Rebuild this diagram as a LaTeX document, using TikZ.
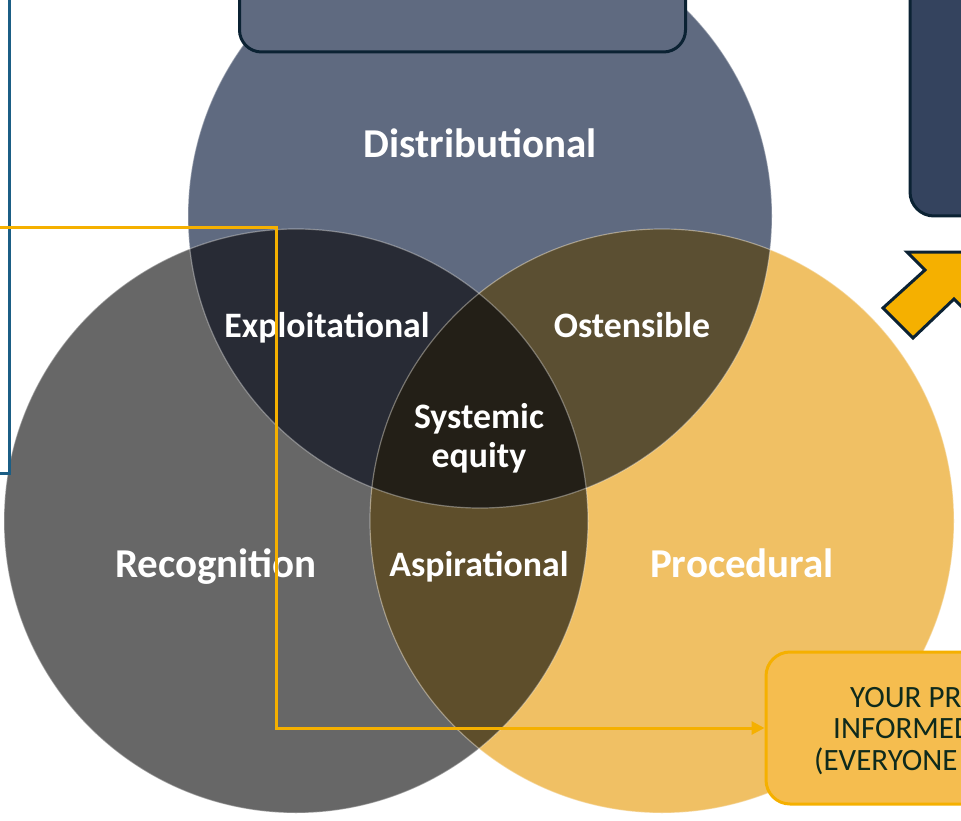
\documentclass[tikz,border=0pt]{standalone}
\usepackage{fontspec}
\setmainfont{Carlito}
\usetikzlibrary{arrows.meta}
\definecolor{cTop}{HTML}{5F6A80}
\definecolor{cLeft}{HTML}{676767}
\definecolor{cRight}{HTML}{F0C064}
\definecolor{cTL}{HTML}{282B35}
\definecolor{cTR}{HTML}{5B4F32}
\definecolor{cLR}{HTML}{5E4E2B}
\definecolor{cAll}{HTML}{231F17}
\definecolor{navy}{HTML}{0B2233}
\definecolor{rbox}{HTML}{34435E}
\definecolor{gold}{HTML}{F5B000}
\definecolor{boxfill}{HTML}{F5BD4F}
\definecolor{lineblue}{HTML}{1B5E85}
\definecolor{txtdark}{HTML}{0E2A1C}
\tikzset{
  bigLabel/.style={text=white, font=\bfseries\fontsize{41}{45}\selectfont, anchor=base, inner sep=0pt},
  midLabel/.style={text=white, font=\bfseries\fontsize{35.8}{39}\selectfont, anchor=base, inner sep=0pt},
  boxText/.style={text=txtdark, font=\fontsize{31}{33}\selectfont, anchor=base west, inner sep=0pt},
  rim/.style={draw=white, draw opacity=0.35, line width=1.2pt},
  goldline/.style={draw=gold, line width=3pt},
}
\begin{document}
\begin{tikzpicture}[x=1pt,y=-1pt]
\useasboundingbox (0,0) rectangle (961,821);
\clip (0,0) rectangle (961,821);
\fill[white] (0,0) rectangle (961,821);
\coordinate (cT) at (480,216);
\coordinate (cL) at (296,521);
\coordinate (cR) at (662,521);
\def\rr{292pt}
% base circles
\fill[cTop] (cT) circle[radius=\rr];
\fill[cLeft] (cL) circle[radius=\rr];
\fill[cRight] (cR) circle[radius=\rr];
% pairwise overlaps
\begin{scope}\clip (cT) circle[radius=\rr]; \fill[cTL] (cL) circle[radius=\rr];\end{scope}
\begin{scope}\clip (cT) circle[radius=\rr]; \fill[cTR] (cR) circle[radius=\rr];\end{scope}
\begin{scope}\clip (cL) circle[radius=\rr]; \fill[cLR] (cR) circle[radius=\rr];\end{scope}
\begin{scope}\clip (cT) circle[radius=\rr]; \clip (cL) circle[radius=\rr]; \fill[cAll] (cR) circle[radius=\rr];\end{scope}
% rims
\path[rim] (cT) circle[radius=\rr];
\path[rim] (cL) circle[radius=\rr];
\path[rim] (cR) circle[radius=\rr];
% labels
\node[bigLabel] (dist) at (480,158) {Distributional};
\node[bigLabel] (reco) at (216,577) {Recognition};
\node[bigLabel] (proc) at (742,577) {Procedural};
\node[midLabel] (expl) at (327,337) {Exploitational};
\node[midLabel] (oste) at (632,337) {Ostensible};
\node[midLabel] (syst1) at (479,428) {Systemic};
\node[midLabel] (syst2) at (479,467) {equity};
\node[midLabel] (aspi) at (479,576) {Aspirational};
% top box
\node[draw=navy, line width=3pt, fill=cTop, rounded corners=22pt,
      minimum width=446pt, minimum height=120pt, inner sep=0pt] (topbox) at (462.5,-8) {};
% right box
\node[draw=navy, line width=3pt, fill=rbox, rounded corners=24pt,
      minimum width=380pt, minimum height=300pt, inner sep=0pt] (rightbox) at (1100,66) {};
% arrow
\draw[navy, line width=3pt, fill=gold, line join=miter]
  (975,252) -- (907,252) -- (925,270) -- (883,308) -- (913,338) -- (954,299) -- (975,320) -- cycle;
% bottom-right box
\node[draw=gold, line width=3pt, fill=boxfill, rounded corners=24pt,
      minimum width=400pt, minimum height=152pt, inner sep=0pt] (brbox) at (966,728) {};
\node[boxText] (t1) at (850,707) {YOUR PR};
\node[boxText] (t2) at (833,738) {INFORMED};
\node[boxText] (t3) at (814,770) {(EVERYONE};
% blue line
\coordinate (b1) at (9,-5);
\coordinate (b2) at (9,473);
\coordinate (b3) at (-5,473);
\draw[lineblue, line width=3pt] (b1) -- (b2) -- (b3);
% gold connector
\coordinate (ystart) at (-5,228);
\coordinate (ybend) at (276,228);
\draw[goldline, -{Triangle[length=13pt,width=13pt]}] (ystart) -- (ybend) |- (brbox.west);
\end{tikzpicture}
\end{document}
